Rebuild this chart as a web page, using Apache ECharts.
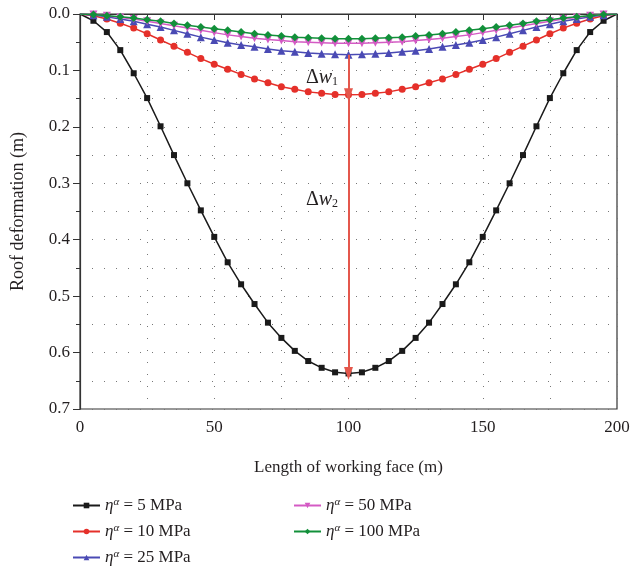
<!DOCTYPE html>
<html>
<head>
<meta charset="utf-8">
<script src="https://cdn.jsdelivr.net/npm/echarts@6/dist/echarts.min.js"></script>
<style>
html,body{margin:0;padding:0;background:#fff;}
#chart{width:633px;height:573px;}
</style>
</head>
<body>
<div id="chart"></div>
<script>
// ---- data ----
var xValues = [0,5,10,15,20,25,30,35,40,45,50,55,60,65,70,75,80,85,90,95,100,
  105,110,115,120,125,130,135,140,145,150,155,160,165,170,175,180,185,190,195,200];
var eta5 = [0,0.012,0.032,0.064,0.105,0.149,0.199,0.250,0.300,0.348,0.395,0.440,0.479,0.514,0.547,0.574,0.597,0.615,0.627,0.635,0.637,
  0.635,0.627,0.615,0.597,0.574,0.547,0.514,0.479,0.440,0.395,0.348,0.300,0.250,0.199,0.149,0.105,0.064,0.032,0.012,0];
var eta10 = [0,0.003,0.009,0.0165,0.025,0.035,0.046,0.057,0.068,0.079,0.089,0.098,0.107,0.115,0.122,0.129,0.1335,0.138,0.1405,0.1425,0.143,
  0.1425,0.1405,0.138,0.1335,0.129,0.122,0.115,0.107,0.098,0.089,0.079,0.068,0.057,0.046,0.035,0.025,0.0165,0.009,0.003,0];
var eta25 = [0,0.002,0.005,0.009,0.013,0.018,0.023,0.029,0.035,0.041,0.046,0.051,0.055,0.058,0.062,0.065,0.067,0.069,0.0705,0.0715,0.072,
  0.0715,0.0705,0.069,0.067,0.065,0.062,0.058,0.055,0.051,0.046,0.041,0.035,0.029,0.023,0.018,0.013,0.009,0.005,0.002,0];
var eta50 = [0,0.001,0.003,0.006,0.009,0.013,0.017,0.021,0.025,0.029,0.033,0.037,0.040,0.043,0.045,0.047,0.049,0.050,0.051,0.052,0.052,
  0.052,0.051,0.050,0.049,0.047,0.045,0.043,0.040,0.037,0.033,0.029,0.025,0.021,0.017,0.013,0.009,0.006,0.003,0.001,0];
var eta100 = [0,0.001,0.003,0.005,0.007,0.010,0.013,0.017,0.020,0.023,0.026,0.029,0.032,0.035,0.037,0.039,0.041,0.042,0.043,0.044,0.044,
  0.044,0.043,0.042,0.041,0.039,0.037,0.035,0.032,0.029,0.026,0.023,0.020,0.017,0.013,0.010,0.007,0.005,0.003,0.001,0];
var seriesNames = ['5 MPa','10 MPa','25 MPa','50 MPa','100 MPa'];
var yTicks = [0,0.1,0.2,0.3,0.4,0.5,0.6,0.7];
var xTicks = [0,50,100,150,200];
// arrow (delta w) positions in data units
var arrowX = 100;
var arrowTop = 0.072, arrowMid = 0.143, arrowBottom = 0.637;

// ---- chart ----
var FONT = '"Liberation Serif","DejaVu Serif",serif';
var colors = ['#1a1a1a','#e5302a','#4a4ab4','#d45ac4','#12903a'];
var symbols = ['rect','circle','triangle','triangle','diamond'];
var symbolSizes = [6,7,8,8,8];
var rotates = [0,0,0,180,0];
var allData = [eta5, eta10, eta25, eta50, eta100];

function pairs(arr){
  var last = xValues.length - 1;
  return xValues.map(function(x,i){
    var item = {value:[x, arr[i]]};
    if (i === 0 || i === last) item.symbol = 'none';
    return item;
  });
}

var series = allData.map(function(arr, i){
  return {
    name: seriesNames[i], type:'line', data: pairs(arr),
    symbol: symbols[i], symbolSize: symbolSizes[i], symbolRotate: rotates[i],
    showAllSymbol:true,
    lineStyle:{color: colors[i], width:1.5},
    itemStyle:{color: colors[i]},
    emphasis:{disabled:true}, animation:false, z: 2+i
  };
});
series.push({
  type:'line', data:[], animation:false, z: 10,
  markLine:{
    silent:true, animation:false,
    symbol:['none','triangle'], symbolSize:[9,13], symbolRotate: 180,
    lineStyle:{color:'#e4574c', width:2, type:'solid'},
    label:{show:false},
    data:[
      [{coord:[arrowX, arrowTop], symbol:'none'},{coord:[arrowX, arrowMid], symbol:'triangle', symbolRotate:180}],
      [{coord:[arrowX, arrowMid], symbol:'none'},{coord:[arrowX, arrowBottom], symbol:'triangle', symbolRotate:180}]
    ]
  }
});

var legendRich = {
  e:{fontFamily:FONT, fontStyle:'italic', fontSize:17, color:'#231f20'},
  a:{fontFamily:FONT, fontStyle:'italic', fontSize:11, color:'#231f20', verticalAlign:'top'},
  t:{fontFamily:FONT, fontSize:17, color:'#231f20'}
};
function legendFmt(n){ return '{e|η}{a|α}{t| = ' + n + '}'; }
function makeLegend(left, names){
  return {
    orient:'vertical', left:left, top:492, itemWidth:27, itemHeight:7, itemGap:9,
    data:names, formatter: legendFmt,
    textStyle:{rich: legendRich, fontFamily:FONT, fontSize:17},
    selectedMode:false
  };
}

var option = {
  backgroundColor:'#fff',
  grid:{left:80, right:16, top:14, bottom:164, show:true, borderColor:'#333', borderWidth:1.2, containLabel:false},
  xAxis:{
    type:'value', min:0, max:200, interval:50,
    name:'Length of working face (m)', nameLocation:'middle', nameGap:50,
    nameTextStyle:{fontFamily:FONT, fontSize:17, color:'#231f20'},
    axisLine:{show:true, lineStyle:{color:'#333', width:1.2}},
    axisTick:{show:true, length:6, lineStyle:{color:'#333'}},
    minorTick:{show:true, splitNumber:2, length:4, lineStyle:{color:'#333'}},
    axisLabel:{fontFamily:FONT, fontSize:17, color:'#231f20', margin:10,
      formatter:function(v){ return xTicks.indexOf(v) >= 0 ? String(v) : ''; }},
    splitLine:{show:true, lineStyle:{color:'#777', type:[1,11], width:1}},
    minorSplitLine:{show:true, lineStyle:{color:'#777', type:[1,11], width:1}}
  },
  yAxis:{
    type:'value', inverse:true, min:0, max:0.7, interval:0.1,
    name:'Roof deformation (m)', nameLocation:'middle', nameGap:53,
    nameTextStyle:{fontFamily:FONT, fontSize:18, color:'#231f20'},
    axisLine:{show:true, lineStyle:{color:'#333', width:1.2}},
    axisTick:{show:true, length:7, lineStyle:{color:'#333'}},
    minorTick:{show:true, splitNumber:2, length:4, lineStyle:{color:'#333'}},
    axisLabel:{fontFamily:FONT, fontSize:17, color:'#231f20', margin:10,
      formatter:function(v){ return v.toFixed(1); }},
    splitLine:{show:true, lineStyle:{color:'#777', type:[1,11], width:1}},
    minorSplitLine:{show:true, lineStyle:{color:'#777', type:[1,11], width:1}}
  },
  legend:[ makeLegend(67, seriesNames.slice(0,3)), makeLegend(288, seriesNames.slice(3)) ],
  graphic:[
    {type:'text', x:322, y:78, silent:true, style:{
      text:'{d|Δ}{w|w}{s|1}', align:'center', verticalAlign:'middle',
      rich:{d:{fontFamily:FONT, fontSize:20, fill:'#231f20'}, w:{fontFamily:FONT, fontSize:20, fontStyle:'italic', fill:'#231f20'}, s:{fontFamily:FONT, fontSize:12, fill:'#231f20', verticalAlign:'bottom'}}
    }},
    {type:'text', x:322, y:200, silent:true, style:{
      text:'{d|Δ}{w|w}{s|2}', align:'center', verticalAlign:'middle',
      rich:{d:{fontFamily:FONT, fontSize:20, fill:'#231f20'}, w:{fontFamily:FONT, fontSize:20, fontStyle:'italic', fill:'#231f20'}, s:{fontFamily:FONT, fontSize:12, fill:'#231f20', verticalAlign:'bottom'}}
    }}
  ],
  series: series
};
var chart = echarts.init(document.getElementById('chart'), null, {renderer:'canvas'});
chart.setOption(option);
</script>
</body>
</html>
